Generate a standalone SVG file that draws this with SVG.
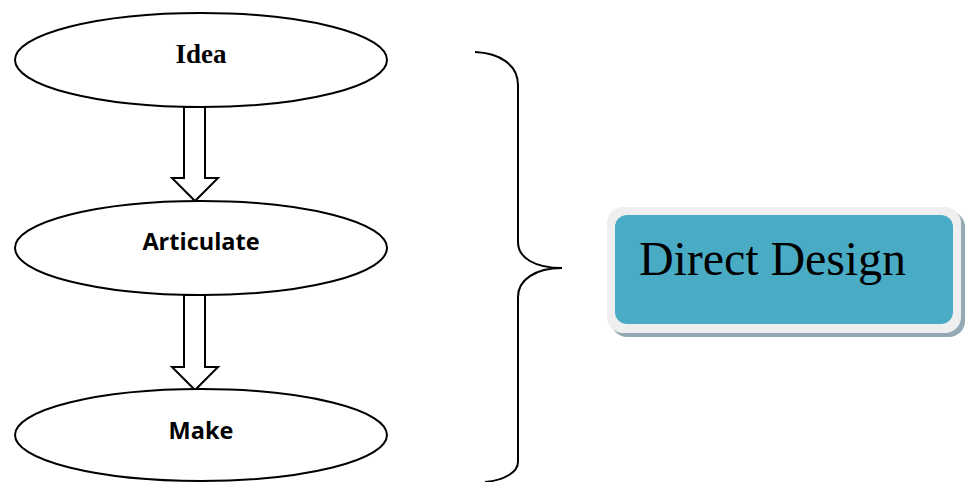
<svg xmlns="http://www.w3.org/2000/svg" width="968" height="482" viewBox="0 0 968 482">
<style>
.node ellipse{fill:#fff;stroke:#000;stroke-width:2}
.arrow{fill:#fff;stroke:#000;stroke-width:2;stroke-linejoin:miter}
.t1{font-family:"Liberation Serif",serif;font-weight:bold;font-size:27px;text-anchor:middle}
.t2{font-family:"Open Sans","Liberation Sans",sans-serif;font-weight:bold;font-size:23.5px;text-anchor:middle}
</style>
<rect width="968" height="482" fill="#fff"/>
<g id="connectors">
<path class="arrow" d="M184 107 V178 H172 L195 201 L218 178 H205 V107 Z"/>
<path class="arrow" d="M184 295 V367 H172 L195 390 L218 367 H205 V295 Z"/>
</g>
<g id="idea" class="node">
<ellipse cx="201" cy="60" rx="186" ry="47"/>
<text class="t1" x="201" y="63">Idea</text>
</g>
<g id="articulate" class="node">
<ellipse cx="201" cy="248" rx="186" ry="47"/>
<text class="t2" x="201" y="250">Articulate</text>
</g>
<g id="make" class="node">
<ellipse cx="201" cy="435" rx="186" ry="46"/>
<text class="t2" x="201" y="439">Make</text>
</g>
<g id="brace">
<path d="M475 52 C500 53 518 65 518 85 V242 C518 258 535 268 562 268 C535 268 518 280 518 297 V462 C518 472 505 480 485 482" fill="none" stroke="#000" stroke-width="2"/>
</g>
<g id="direct-design">
<rect x="611" y="211" width="354" height="126" rx="16" fill="#93a9b4"/>
<rect x="607" y="207" width="354" height="126" rx="16" fill="#efefef"/>
<rect x="615" y="215" width="338" height="109" rx="12" fill="#4aabc5"/>
<text x="639" y="275" font-family="Liberation Serif,serif" font-size="48" textLength="267">Direct Design</text>
</g>
</svg>
